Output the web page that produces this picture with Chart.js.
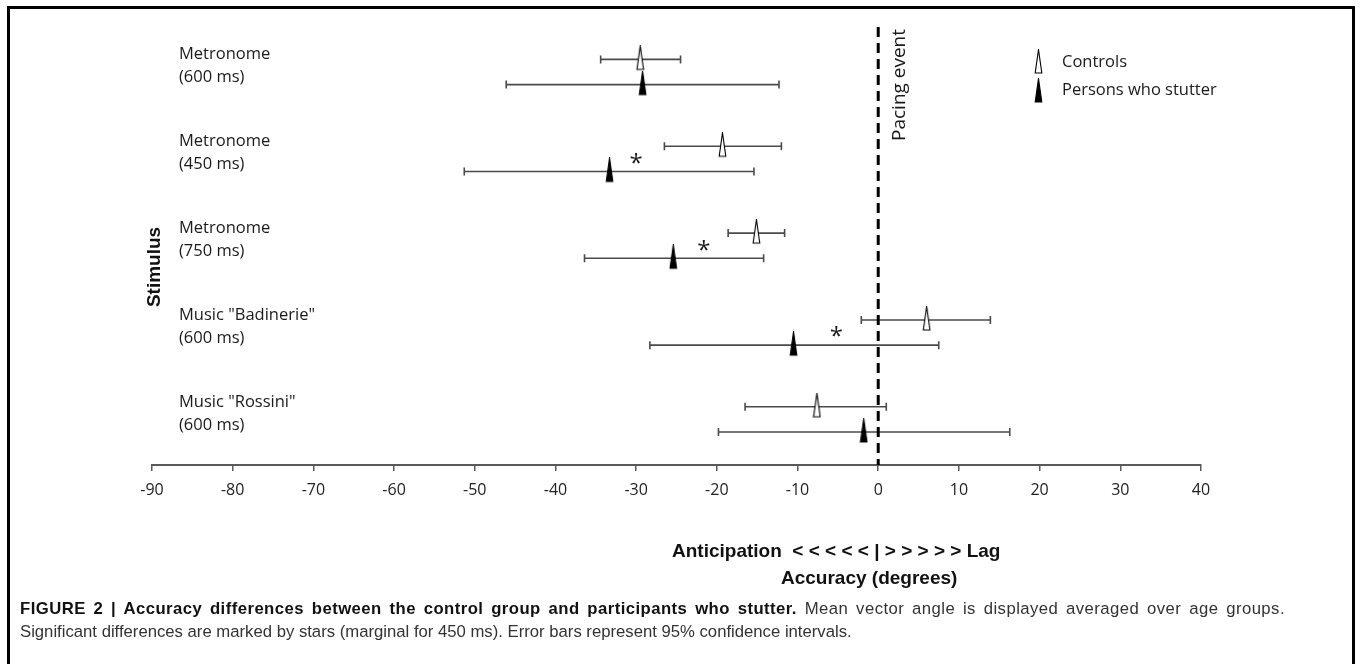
<!DOCTYPE html>
<html>
<head>
<meta charset="utf-8">
<script src="https://cdn.jsdelivr.net/npm/chart.js@4.4.0/dist/chart.umd.min.js"></script>
<style>
  body { margin: 0; background: #fff; width: 1360px; height: 664px; overflow: hidden; position: relative; }
  #frame { position: absolute; left: 7px; top: 6px; width: 1342px; height: 700px; border: 3px solid #000; }
  #wrap { position: absolute; left: 0; top: 0; width: 1360px; height: 664px; }
  #caption { position: absolute; left: 20px; top: 597px; width: 1265px; font-family: "Liberation Sans", Arial, sans-serif;
             font-size: 16.7px; line-height: 23px; color: #333; white-space: nowrap; }
  #caption .l1 { text-align: justify; text-align-last: justify; letter-spacing: 0.45px; }
  #caption b { color: #111; }
</style>
</head>
<body>
<div id="wrap"><canvas id="chart" width="1360" height="664"></canvas></div>
<div id="frame"></div>
<div id="caption">
  <div class="l1"><b>FIGURE 2 | Accuracy differences between the control group and participants who stutter.</b> Mean vector angle is displayed averaged over age groups.</div>
  <div>Significant differences are marked by stars (marginal for 450 ms). Error bars represent 95% confidence intervals.</div>
</div>
<script>
// stimuli, top to bottom
const stimuli = [
    ['Metronome', '(600 ms)'],
    ['Metronome', '(450 ms)'],
    ['Metronome', '(750 ms)'],
    ['Music "Badinerie"', '(600 ms)'],
    ['Music "Rossini"', '(600 ms)']
];
// mean vector angle (degrees) and 95% CI
const controlMean = [-29.5, -19.3, -15.1, 6.0, -7.6];
const controlLow  = [-34.4, -26.5, -18.6, -2.1, -16.5];
const controlHigh = [-24.5, -12.0, -11.6, 13.9, 1.0];
const pwsMean = [-29.2, -33.3, -25.4, -10.5, -1.8];
const pwsLow  = [-46.1, -51.3, -36.4, -28.3, -19.8];
const pwsHigh = [-12.3, -15.4, -14.2, 7.5, 16.3];
// where the significance stars sit (null = no star)
const starX = [null, -30.0, -21.6, -5.2, null];
const xTicks = [-90, -80, -70, -60, -50, -40, -30, -20, -10, 0, 10, 20, 30, 40];

const PWS_OFFSET = 0.29;   // second line of each row, in row units

function makeTriangle(fill) {
    const c = document.createElement('canvas');
    c.width = 9; c.height = 28;
    const g = c.getContext('2d');
    g.beginPath();
    g.moveTo(4.5, 0.5);
    g.lineTo(7.8, 24);
    g.lineTo(1.2, 24);
    g.closePath();
    g.fillStyle = fill;
    g.fill();
    g.lineWidth = 1.1;
    g.strokeStyle = '#000';
    g.stroke();
    return c;
}
const openTri = makeTriangle('#fff');
const filledTri = makeTriangle('#000');

const sans = '"Open Sans", sans-serif';
const bold = 'bold 19px "Liberation Sans", Arial, sans-serif';

const decor = {
    id: 'decor',
    beforeDatasetsDraw(chart) {
        const ctx = chart.ctx, x = chart.scales.x, y = chart.scales.y;
        ctx.save();
        ctx.strokeStyle = '#4a4a4a';
        ctx.lineWidth = 1.6;
        function bar(lo, hi, yv) {
            const x1 = x.getPixelForValue(lo), x2 = x.getPixelForValue(hi), py = y.getPixelForValue(yv);
            ctx.beginPath();
            ctx.moveTo(x1, py); ctx.lineTo(x2, py);
            ctx.moveTo(x1, py - 4); ctx.lineTo(x1, py + 4);
            ctx.moveTo(x2, py - 4); ctx.lineTo(x2, py + 4);
            ctx.stroke();
        }
        stimuli.forEach((s, i) => {
            bar(controlLow[i], controlHigh[i], i);
            bar(pwsLow[i], pwsHigh[i], i + PWS_OFFSET);
        });
        ctx.restore();
    },
    afterDatasetsDraw(chart) {
        const ctx = chart.ctx, x = chart.scales.x, y = chart.scales.y, area = chart.chartArea;
        ctx.save();
        // pacing event line
        const zx = x.getPixelForValue(0);
        ctx.strokeStyle = '#000';
        ctx.lineWidth = 3;
        ctx.setLineDash([10, 6]);
        ctx.beginPath();
        ctx.moveTo(zx, 27); ctx.lineTo(zx, area.bottom);
        ctx.stroke();
        ctx.setLineDash([]);

        ctx.fillStyle = '#1a1a1a';
        ctx.save();
        ctx.translate(zx + 27, 141);
        ctx.rotate(-Math.PI / 2);
        ctx.font = '19px ' + sans;
        ctx.textAlign = 'left';
        ctx.textBaseline = 'alphabetic';
        ctx.fillText('Pacing event', 0, 0);
        ctx.restore();

        // stimulus labels
        ctx.font = '16.5px ' + sans;
        ctx.textAlign = 'left';
        ctx.textBaseline = 'middle';
        stimuli.forEach((s, i) => {
            const py = y.getPixelForValue(i);
            ctx.fillText(s[0], area.left + 27, py - 5);
            ctx.fillText(s[1], area.left + 27, py + 18);
        });

        // stars
        ctx.font = '24px ' + sans;
        ctx.textAlign = 'center';
        starX.forEach((sx, i) => {
            if (sx === null) return;
            ctx.fillText('*', x.getPixelForValue(sx), y.getPixelForValue(i + PWS_OFFSET / 2) + 5);
        });

        // legend
        ctx.drawImage(openTri, 1034, 49);
        ctx.drawImage(filledTri, 1034, 78);
        ctx.font = '16.5px ' + sans;
        ctx.textAlign = 'left';
        ctx.fillText('Controls', 1062, 62);
        ctx.fillText('Persons who stutter', 1062, 90);

        // axis titles
        ctx.font = bold;
        ctx.fillStyle = '#111';
        ctx.save();
        ctx.translate(155, 267);
        ctx.rotate(-Math.PI / 2);
        ctx.textAlign = 'center';
        ctx.fillText('Stimulus', 0, 0);
        ctx.restore();
        ctx.textAlign = 'left';
        ctx.fillText('Anticipation  < < < < < | > > > > > Lag', 672, 552);
        ctx.fillText('Accuracy (degrees)', 781, 579);
        ctx.restore();
    }
};

const rows = stimuli.map((s, i) => i);

new Chart(document.getElementById('chart'), {
    type: 'scatter',
    data: {
        datasets: [
            {
                label: 'Controls',
                data: controlMean.map((v, i) => ({ x: v, y: rows[i] })),
                pointStyle: openTri,
                pointRadius: 10
            },
            {
                label: 'Persons who stutter',
                data: pwsMean.map((v, i) => ({ x: v, y: rows[i] + PWS_OFFSET })),
                pointStyle: filledTri,
                pointRadius: 10
            }
        ]
    },
    options: {
        responsive: false,
        animation: false,
        devicePixelRatio: 1,
        layout: { padding: { left: 152, right: 159, top: 16, bottom: 165 } },
        plugins: { legend: { display: false }, tooltip: { enabled: false } },
        scales: {
            x: {
                type: 'linear',
                min: -90, max: 40,
                afterBuildTicks(scale) { scale.ticks = xTicks.map(v => ({ value: v })); },
                afterFit(scale) { scale.height = 34; },
                grid: { drawOnChartArea: false, drawTicks: true, tickLength: 6, color: '#595959', lineWidth: 1.5 },
                border: { color: '#595959', width: 2 },
                ticks: { color: '#222', font: { family: '"Open Sans", sans-serif', size: 16 }, padding: 10, maxRotation: 0 }
            },
            y: {
                type: 'linear',
                reverse: true,
                min: -0.5, max: 4.67,
                display: false
            }
        }
    },
    plugins: [decor]
});
</script>
</body>
</html>
